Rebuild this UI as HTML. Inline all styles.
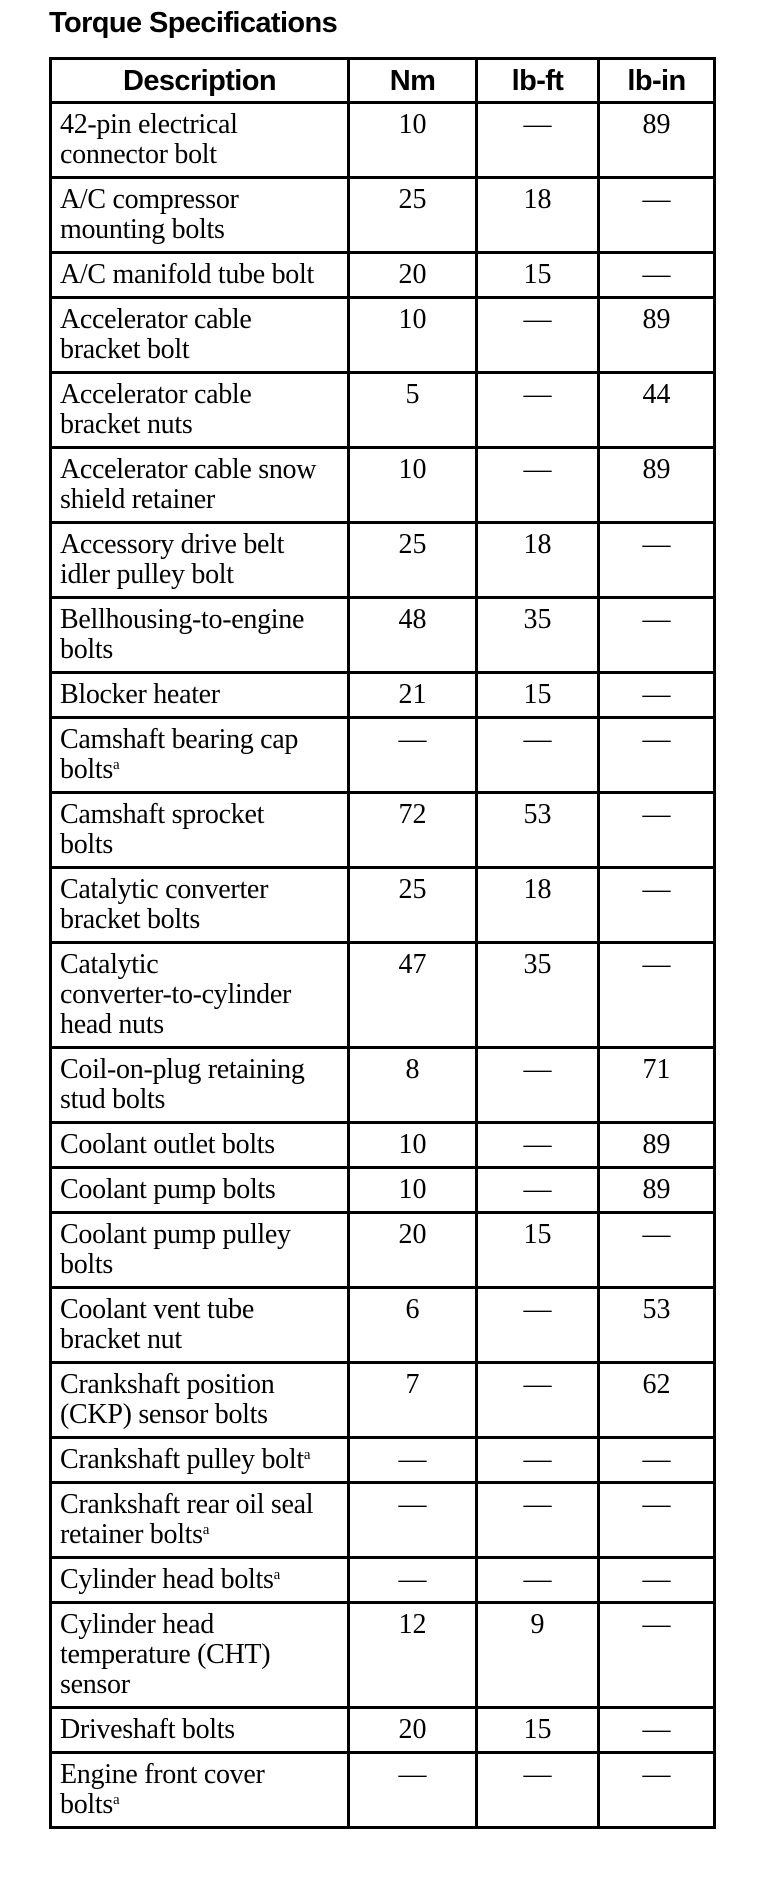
<!DOCTYPE html>
<html><head><meta charset="utf-8"><style>
html,body{margin:0;padding:0;background:#fff;width:768px;height:1900px;overflow:hidden}
h1{position:absolute;left:49px;top:7px;margin:0;font:bold 29px "Liberation Sans",sans-serif;letter-spacing:-0.6px;color:#000}
table{position:absolute;left:49px;top:57px;border-collapse:collapse;table-layout:fixed;width:664px;border:3px solid #000}
td,th{border:3px solid #000;padding:6px 0 0 0;vertical-align:top;font:28px/30px "Liberation Serif",serif;color:#000;text-align:center;box-sizing:border-box}
th{font:bold 29px/30px "Liberation Sans",sans-serif;letter-spacing:-0.6px;vertical-align:middle;padding:0;height:44px}
td.d{text-align:left;padding-left:8px;letter-spacing:-0.3px;white-space:nowrap}
tr.l1 td{height:45px}tr.l2 td{height:75px}tr.l3 td{height:105px}
sup{font-size:15px;line-height:0;vertical-align:9px}
</style></head><body>
<h1>Torque Specifications</h1>
<table>
<colgroup><col style="width:298px"><col style="width:128px"><col style="width:122px"><col style="width:116px"></colgroup>
<tr><th>Description</th><th>Nm</th><th>lb-ft</th><th>lb-in</th></tr>
<tr class="l2"><td class="d">42-pin electrical<br>connector bolt</td><td>10</td><td>—</td><td>89</td></tr>
<tr class="l2"><td class="d">A/C compressor<br>mounting bolts</td><td>25</td><td>18</td><td>—</td></tr>
<tr class="l1"><td class="d">A/C manifold tube bolt</td><td>20</td><td>15</td><td>—</td></tr>
<tr class="l2"><td class="d">Accelerator cable<br>bracket bolt</td><td>10</td><td>—</td><td>89</td></tr>
<tr class="l2"><td class="d">Accelerator cable<br>bracket nuts</td><td>5</td><td>—</td><td>44</td></tr>
<tr class="l2"><td class="d">Accelerator cable snow<br>shield retainer</td><td>10</td><td>—</td><td>89</td></tr>
<tr class="l2"><td class="d">Accessory drive belt<br>idler pulley bolt</td><td>25</td><td>18</td><td>—</td></tr>
<tr class="l2"><td class="d">Bellhousing-to-engine<br>bolts</td><td>48</td><td>35</td><td>—</td></tr>
<tr class="l1"><td class="d">Blocker heater</td><td>21</td><td>15</td><td>—</td></tr>
<tr class="l2"><td class="d">Camshaft bearing cap<br>bolts<sup>a</sup></td><td>—</td><td>—</td><td>—</td></tr>
<tr class="l2"><td class="d">Camshaft sprocket<br>bolts</td><td>72</td><td>53</td><td>—</td></tr>
<tr class="l2"><td class="d">Catalytic converter<br>bracket bolts</td><td>25</td><td>18</td><td>—</td></tr>
<tr class="l3"><td class="d">Catalytic<br>converter-to-cylinder<br>head nuts</td><td>47</td><td>35</td><td>—</td></tr>
<tr class="l2"><td class="d">Coil-on-plug retaining<br>stud bolts</td><td>8</td><td>—</td><td>71</td></tr>
<tr class="l1"><td class="d">Coolant outlet bolts</td><td>10</td><td>—</td><td>89</td></tr>
<tr class="l1"><td class="d">Coolant pump bolts</td><td>10</td><td>—</td><td>89</td></tr>
<tr class="l2"><td class="d">Coolant pump pulley<br>bolts</td><td>20</td><td>15</td><td>—</td></tr>
<tr class="l2"><td class="d">Coolant vent tube<br>bracket nut</td><td>6</td><td>—</td><td>53</td></tr>
<tr class="l2"><td class="d">Crankshaft position<br>(CKP) sensor bolts</td><td>7</td><td>—</td><td>62</td></tr>
<tr class="l1"><td class="d">Crankshaft pulley bolt<sup>a</sup></td><td>—</td><td>—</td><td>—</td></tr>
<tr class="l2"><td class="d">Crankshaft rear oil seal<br>retainer bolts<sup>a</sup></td><td>—</td><td>—</td><td>—</td></tr>
<tr class="l1"><td class="d">Cylinder head bolts<sup>a</sup></td><td>—</td><td>—</td><td>—</td></tr>
<tr class="l3"><td class="d">Cylinder head<br>temperature (CHT)<br>sensor</td><td>12</td><td>9</td><td>—</td></tr>
<tr class="l1"><td class="d">Driveshaft bolts</td><td>20</td><td>15</td><td>—</td></tr>
<tr class="l2"><td class="d">Engine front cover<br>bolts<sup>a</sup></td><td>—</td><td>—</td><td>—</td></tr>
</table>
</body></html>
